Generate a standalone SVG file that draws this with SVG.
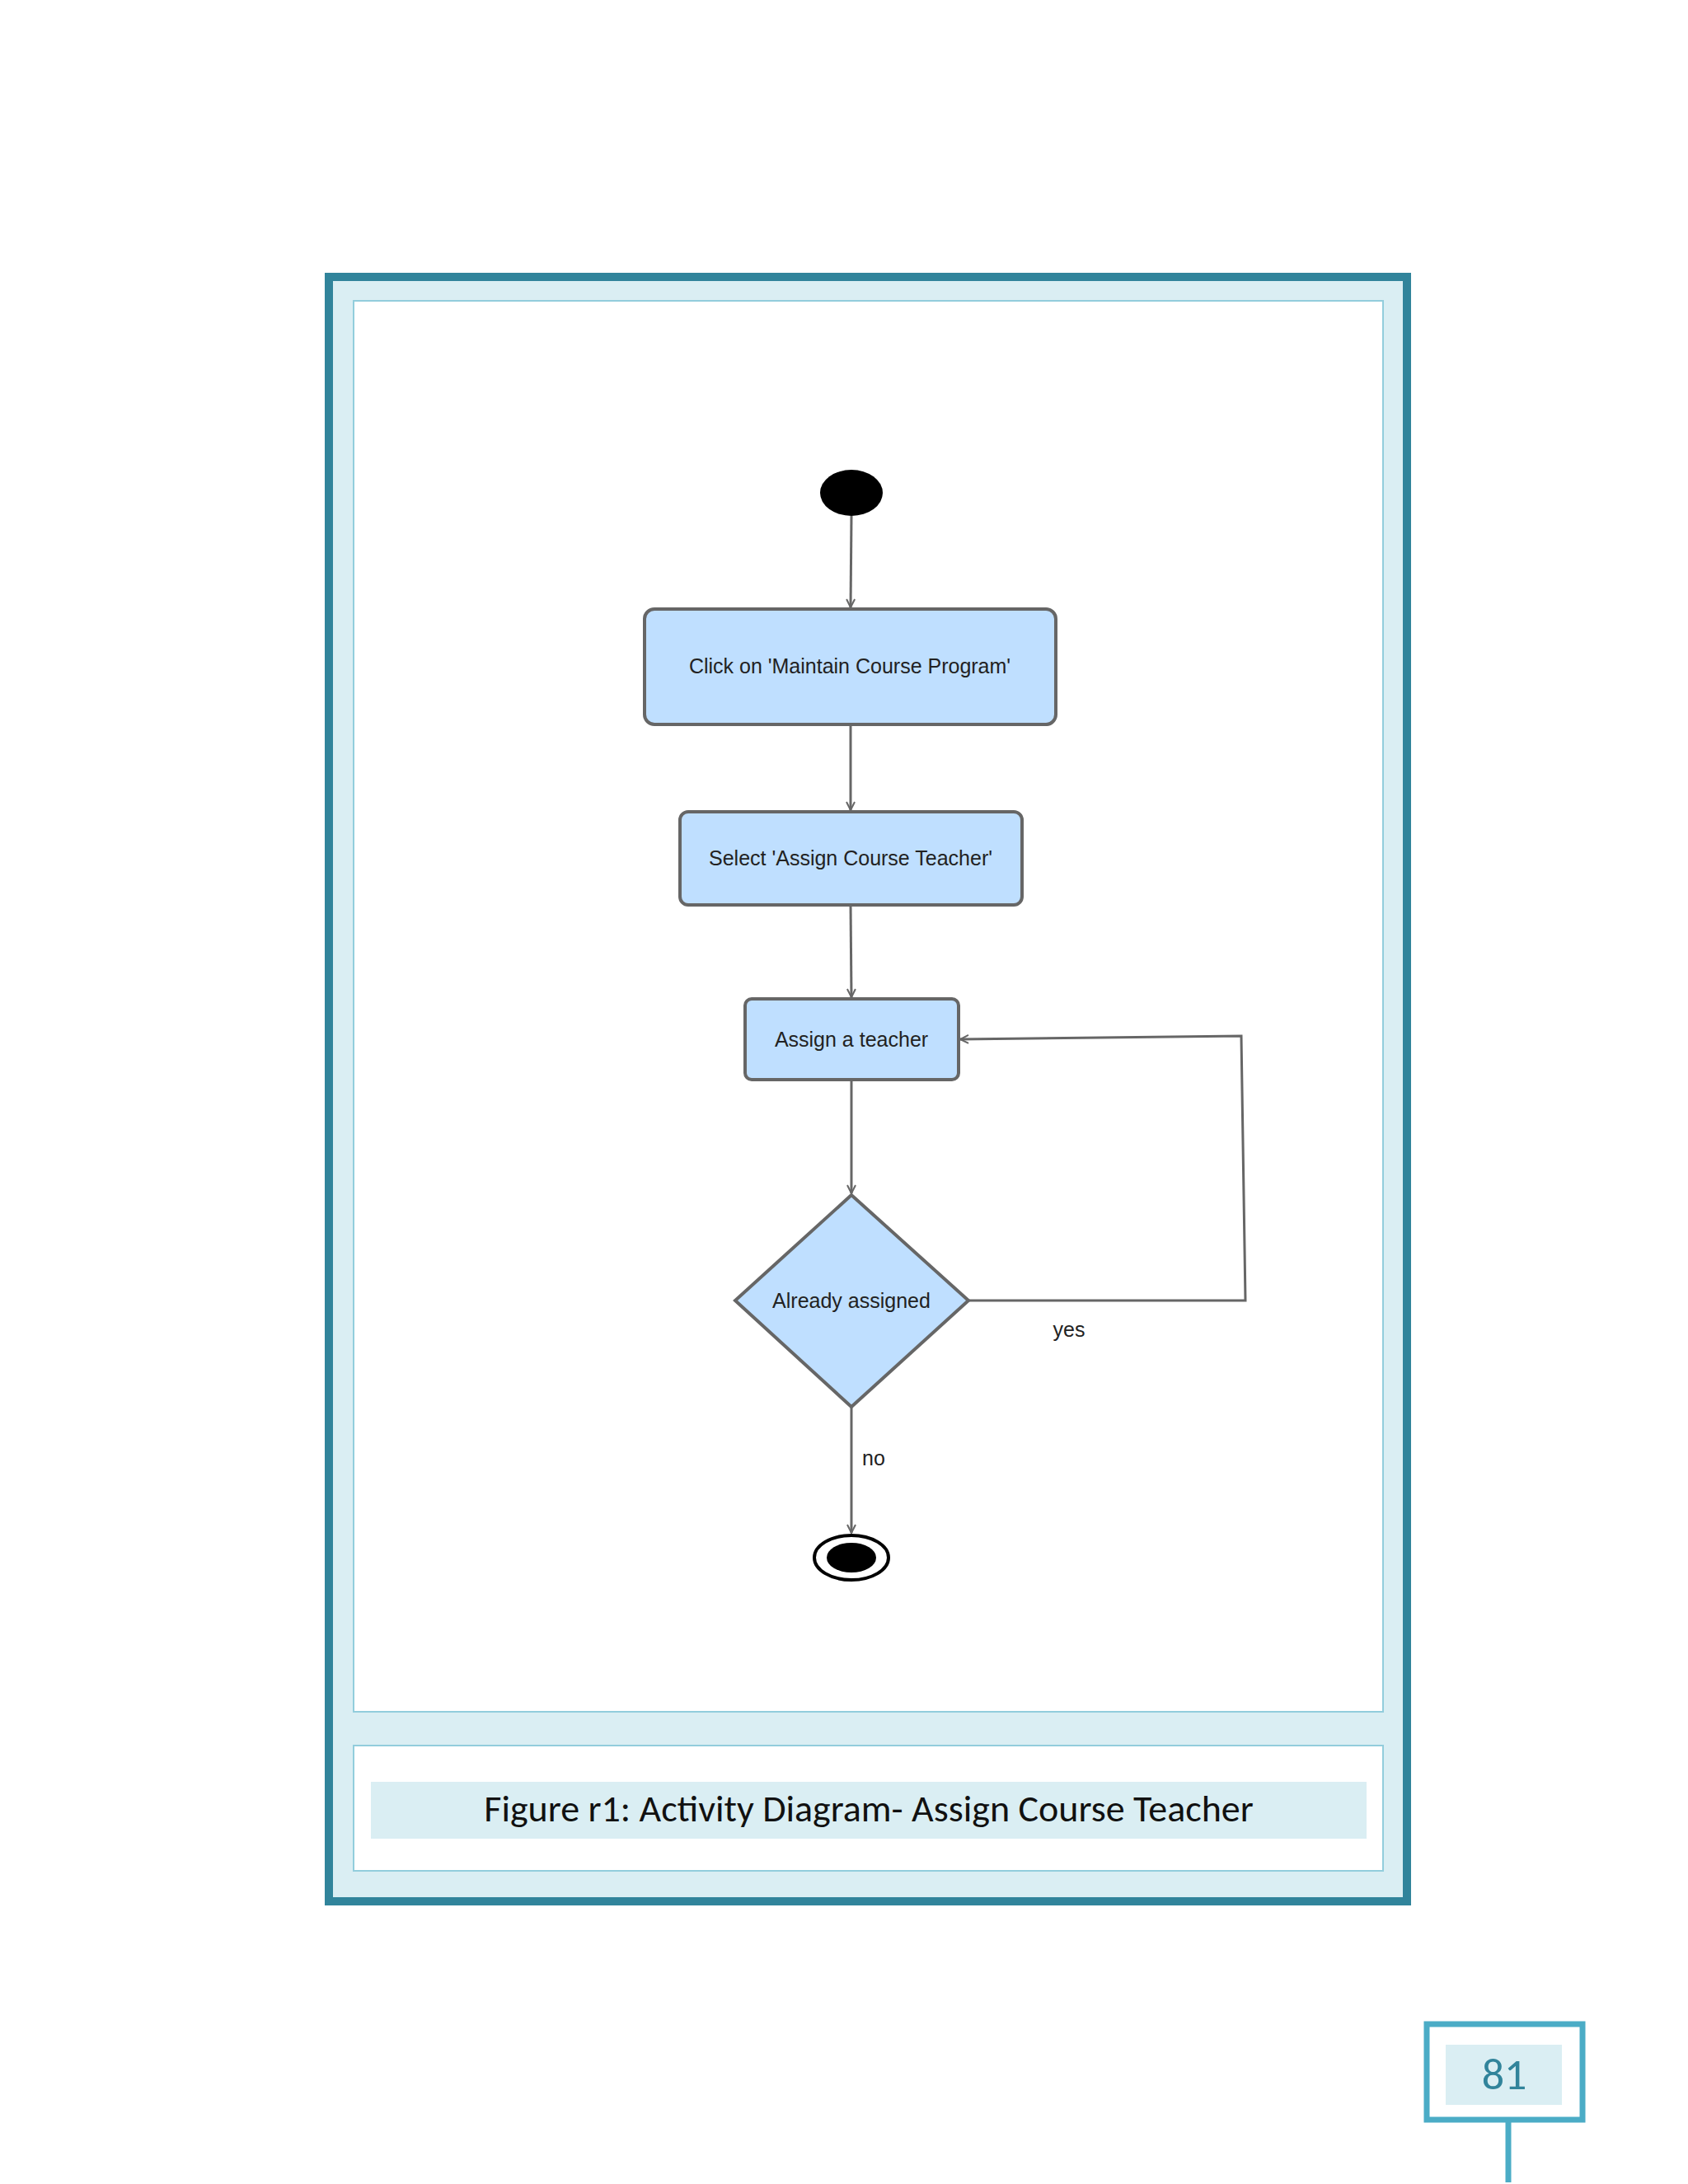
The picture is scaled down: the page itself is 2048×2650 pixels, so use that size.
<svg xmlns="http://www.w3.org/2000/svg" width="2048" height="2650" viewBox="0 0 2048 2650">
<defs>
<style>
.node{fill:#BFDFFF;stroke:#666;stroke-width:4}
.lbl{font-family:"Liberation Sans",Arial,sans-serif;font-size:25px;fill:#222;text-anchor:middle}
.edge{fill:none;stroke:#666;stroke-width:3}
</style>
<marker id="arr" viewBox="0 0 12 12" refX="11" refY="6" markerWidth="12" markerHeight="12" markerUnits="userSpaceOnUse" orient="auto"><path d="M1,1 L11,6 L1,11" fill="none" stroke="#666" stroke-width="2"/></marker>
</defs>
<rect width="2048" height="2650" fill="#fff"/>
<rect x="399" y="336" width="1308" height="1971" fill="#DAEEF3" stroke="#31849B" stroke-width="10"/>
<rect x="429" y="365" width="1249" height="1712" fill="#fff" stroke="#92CDDC" stroke-width="2"/>
<rect x="429" y="2118" width="1249" height="152" fill="#fff" stroke="#92CDDC" stroke-width="2"/>
<rect x="450" y="2162" width="1208" height="69" fill="#DAEEF3"/>
<text x="1054" y="2210" font-family="Carlito,'Open Sans','Liberation Sans',sans-serif" font-size="46" text-anchor="middle" fill="#111">Figure r1: Activity Diagram- Assign Course Teacher</text>
<g id="edges">
<path class="edge" d="M1033,626 L1032,737" marker-end="url(#arr)"/>
<path class="edge" d="M1032,879 L1032,983" marker-end="url(#arr)"/>
<path class="edge" d="M1032,1098 L1033,1210" marker-end="url(#arr)"/>
<path class="edge" d="M1033,1310 L1033,1448" marker-end="url(#arr)"/>
<path class="edge" d="M1175,1578 L1511,1578 L1506,1257 L1165,1261" marker-end="url(#arr)"/>
<path class="edge" d="M1033,1707 L1033,1860" marker-end="url(#arr)"/>
<text class="lbl" x="1297" y="1622">yes</text>
<text class="lbl" x="1060" y="1778">no</text>
</g>
<g id="start"><ellipse cx="1033" cy="598" rx="38" ry="28" fill="#000"/></g>
<g id="n1"><rect class="node" x="782" y="739" width="499" height="140" rx="12"/><text class="lbl" x="1031" y="817">Click on 'Maintain Course Program'</text></g>
<g id="n2"><rect class="node" x="825" y="985" width="415" height="113" rx="10"/><text class="lbl" x="1032" y="1050">Select 'Assign Course Teacher'</text></g>
<g id="n3"><rect class="node" x="904" y="1212" width="259" height="98" rx="8"/><text class="lbl" x="1033" y="1270">Assign a teacher</text></g>
<g id="d1"><path class="node" d="M1033,1450 L1175,1578 L1033,1707 L892,1578 Z"/><text class="lbl" x="1033" y="1587">Already assigned</text></g>
<g id="end"><ellipse cx="1033" cy="1890" rx="45" ry="27" fill="#fff" stroke="#000" stroke-width="4"/><ellipse cx="1033" cy="1890" rx="30" ry="18" fill="#000"/></g>
<rect x="1731" y="2456" width="189" height="116" fill="#fff" stroke="#4BACC6" stroke-width="7"/>
<rect x="1754" y="2481" width="141" height="73" fill="#DAEEF3"/>
<text x="1825" y="2535" font-family="Carlito,'Open Sans','Liberation Sans',sans-serif" font-size="54" text-anchor="middle" fill="#31849B">81</text>
<line x1="1830" y1="2572" x2="1830" y2="2648" stroke="#4BACC6" stroke-width="7"/>
</svg>
